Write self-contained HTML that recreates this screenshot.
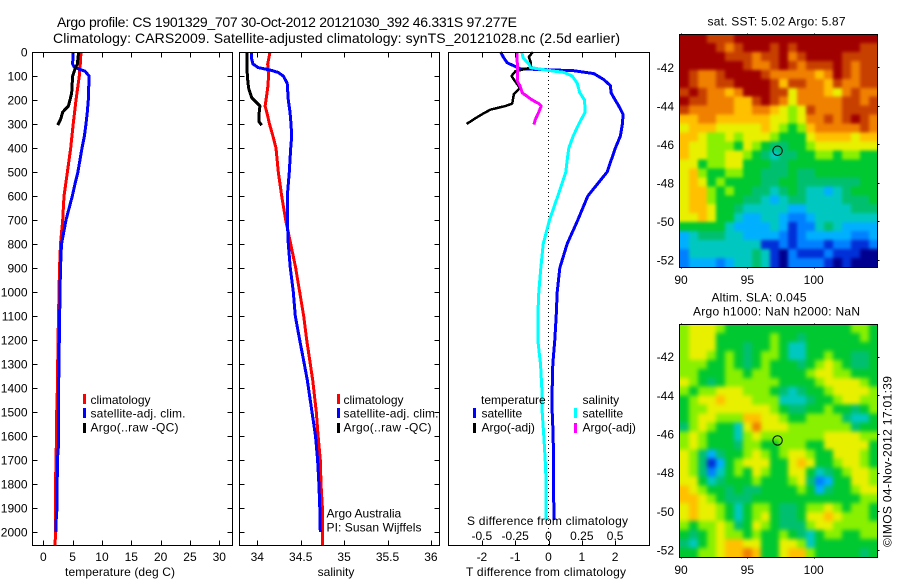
<!DOCTYPE html>
<html lang="en">
<head>
<meta charset="utf-8">
<title>Argo profile 1901329_707</title>
<style>
html,body{margin:0;padding:0;background:#fff;}
svg{display:block;font-family:"Liberation Sans",sans-serif;fill:#000;}
text{font-size:12px;}
.title{font-size:14px;}
.box{fill:none;stroke:#000;stroke-width:1;shape-rendering:crispEdges;}
</style>
</head>
<body>
<svg id="chart" xmlns="http://www.w3.org/2000/svg" width="900" height="580" viewBox="0 0 900 580">
  <defs>
    <filter id="soften-sst" filterUnits="userSpaceOnUse" x="640" y="0" width="260" height="300" color-interpolation-filters="sRGB"><feGaussianBlur stdDeviation="1.5"/></filter>
    <filter id="soften-sla" filterUnits="userSpaceOnUse" x="640" y="290" width="260" height="290" color-interpolation-filters="sRGB"><feGaussianBlur stdDeviation="2.2"/></filter>
    <clipPath id="clip-sst"><rect x="680" y="34" width="197" height="233"/></clipPath>
    <clipPath id="clip-sla"><rect x="680" y="324" width="197" height="233"/></clipPath>
  </defs>
  <text class="title" x="57" y="27" textLength="460" lengthAdjust="spacing">Argo profile: CS 1901329_707 30-Oct-2012 20121030_392 46.331S 97.277E</text>
  <text class="title" x="53" y="43" textLength="567" lengthAdjust="spacing">Climatology: CARS2009. Satellite-adjusted climatology: synTS_20121028.nc (2.5d earlier)</text>

  <g id="layer-marks"></g>
  <g id="layer-axes"></g>

  <text x="120" y="576" text-anchor="middle" textLength="110" lengthAdjust="spacing">temperature (deg C)</text>
  <text x="336" y="576" text-anchor="middle">salinity</text>
  <text x="546" y="576" text-anchor="middle" textLength="160" lengthAdjust="spacing">T difference from climatology</text>
  <text x="547.5" y="525" text-anchor="middle" textLength="161" lengthAdjust="spacing">S difference from climatology</text>

  <g>
    <rect x="83" y="394" width="3" height="10" fill="#f00"/>
    <text x="90.5" y="404">climatology</text>
    <rect x="83" y="408" width="3" height="10" fill="#00f"/>
    <text x="90.5" y="417.5" textLength="95" lengthAdjust="spacing">satellite-adj. clim.</text>
    <rect x="83" y="423" width="3" height="10" fill="#000"/>
    <text x="90.5" y="431.5" textLength="88" lengthAdjust="spacing">Argo(..raw -QC)</text>
  </g>
  <g>
    <rect x="337" y="394" width="3" height="10" fill="#f00"/>
    <text x="343.5" y="404">climatology</text>
    <rect x="337" y="408" width="3" height="10" fill="#00f"/>
    <text x="343.5" y="417.5" textLength="95" lengthAdjust="spacing">satellite-adj. clim.</text>
    <rect x="337" y="423" width="3" height="10" fill="#000"/>
    <text x="343.5" y="431.5" textLength="88" lengthAdjust="spacing">Argo(..raw -QC)</text>
  </g>
  <text x="326.5" y="517.5">Argo Australia</text>
  <text x="326.5" y="531.5" textLength="95" lengthAdjust="spacing">PI: Susan Wijffels</text>

  <g>
    <text x="481" y="404">temperature</text>
    <rect x="473" y="408" width="3" height="10" fill="#00f"/>
    <text x="481.5" y="417.5">satellite</text>
    <rect x="473" y="423" width="3" height="10" fill="#000"/>
    <text x="481.5" y="431.5">Argo(-adj)</text>
    <text x="582.5" y="404">salinity</text>
    <rect x="574" y="408" width="3" height="10" fill="#0ff"/>
    <text x="582.5" y="417.5">satellite</text>
    <rect x="574" y="423" width="3" height="10" fill="#f0f"/>
    <text x="582.5" y="431.5">Argo(-adj)</text>
  </g>

  <text x="776.5" y="25.5" text-anchor="middle" textLength="138" lengthAdjust="spacing">sat. SST: 5.02  Argo: 5.87</text>
  <text x="759" y="301.5" text-anchor="middle" textLength="95" lengthAdjust="spacing">Altim. SLA: 0.045</text>
  <text x="776.5" y="315.5" text-anchor="middle" textLength="167" lengthAdjust="spacing">Argo h1000: NaN h2000: NaN</text>
  <text transform="translate(891.5,547) rotate(-90)" textLength="171" lengthAdjust="spacing">©IMOS 04-Nov-2012 17:01:39</text>
</svg>
<script>
// ---- profile panel values ----
const tempClimDepth = [0,50,100,200,300,400,500,600,700,800,900,1000,1200,1400,1500,1600,1700,1800,1900,2000,2054];
const tempClimValue = [6.43,6.3,6.14,5.57,5.1,4.67,4.1,3.53,3.3,2.93,2.76,2.68,2.5,2.4,2.28,2.25,2.16,2.08,2.05,2.1,2.0];
const tempSatDepth = [0,50,60,70,80,100,200,250,300,350,400,500,550,600,700,800,900,1000,1400,1500,1600,1650,1700,1900,1950,2000];
const tempSatValue = [5.1,5.0,5.2,5.97,7.1,7.8,7.67,7.5,7.28,7.0,6.6,5.9,5.4,4.95,3.87,3.1,2.93,2.85,2.6,2.56,2.55,2.55,2.4,2.34,2.2,2.16];
const tempArgoDepth = [0,50,70,100,170,200,225,250,280,305];
const tempArgoValue = [6.03,5.8,5.4,5.0,4.84,4.55,4.27,3.3,2.97,2.45];

const salClimDepth = [0,50,100,150,200,225,260,300,350,400,500,600,700,800,900,1000,1100,1200,1300,1367,1500,1600,1700,1800,1900,2000,2054];
const salClimValue = [34.146,34.12,34.13,34.12,34.10,34.09,34.115,34.14,34.18,34.215,34.242,34.281,34.327,34.385,34.442,34.488,34.535,34.569,34.611,34.638,34.68,34.70,34.726,34.734,34.75,34.753,34.753];
const salSatDepth = [0,30,50,65,75,85,100,130,200,250,300,350,400,500,600,700,800,900,1000,1100,1200,1300,1367,1500,1600,1700,1800,1900,2000];
const salSatValue = [33.93,33.935,33.95,34.01,34.146,34.24,34.3,34.345,34.357,34.377,34.388,34.396,34.385,34.369,34.346,34.346,34.357,34.38,34.415,34.438,34.488,34.541,34.576,34.63,34.67,34.695,34.71,34.72,34.726];
const salArgoDepth = [0,100,150,190,210,225,260,290,305];
const salArgoValue = [33.88,33.885,33.9,33.935,33.99,34.03,34.02,34.02,34.05];

const diffTSatDepth = [0,25,45,70,78,90,115,140,170,190,225,260,300,350,400,500,600,700,800,900,1000,1100,1200,1300,1400,1500,1600,1900,1950];
const diffTSatValue = [-1.44,-1.34,-1.24,-0.84,0.75,1.36,1.66,1.86,1.88,1.96,2.11,2.24,2.22,2.16,2.01,1.76,1.18,0.88,0.56,0.34,0.26,0.23,0.19,0.13,0.11,0.11,0.14,0.16,0.16];
const diffTArgoDepth = [0,20,40,65,80,100,115,130,150,175,215,225,240,255,280,300];
const diffTArgoValue = [-0.47,-0.59,-0.54,-0.52,-0.99,-1.11,-1.04,-0.96,-0.86,-1.04,-1.09,-1.29,-1.74,-1.94,-2.24,-2.46];
const diffSSatDepth = [0,25,50,65,78,85,100,130,170,200,250,300,350,400,450,500,600,700,800,900,1000,1100,1200,1300,1400,1500,1600,1700,1800,1950];
const diffSSatValue = [-0.2,-0.19,-0.147,-0.135,0.015,0.115,0.178,0.215,0.235,0.27,0.275,0.227,0.185,0.152,0.14,0.13,0.07,0.0075,-0.04,-0.058,-0.073,-0.08,-0.08,-0.06,-0.05,-0.047,-0.035,-0.025,-0.017,-0.02];
const diffSArgoDepth = [0,40,80,120,140,170,200,215,225,250,280,302];
const diffSArgoValue = [-0.235,-0.235,-0.23,-0.235,-0.215,-0.197,-0.122,-0.073,-0.055,-0.073,-0.0975,-0.11];

// ---- tick labels ----
const depthTicks = [0,100,200,300,400,500,600,700,800,900,1000,1100,1200,1300,1400,1500,1600,1700,1800,1900,2000];
const tempTicks = [0,5,10,15,20,25,30];
const salTicks = [34,34.5,35,35.5,36];
const diffTTicks = [-2,-1,0,1,2];
const diffSTicks = [-0.5,-0.25,0,0.25,0.5];
const lonTicks = [90,95,100];
const latTicks = [-42,-44,-46,-48,-50,-52];

// ---- map float position ----
const floatLon = [97.277];
const floatLat = [-46.331];

// ---- heatmap values (colour-scale level, 0 = navy ... 12 = dark red) ----
const sstLevels = [
[12,12,12,11,11,11,12,12,12,12,12,12,12,12,12,12,12,12,12,12,12,12],
[12,12,12,12,11,10,11,12,12,12,11,12,11,12,12,12,12,12,12,12,11,11],
[12,12,12,12,12,11,11,11,10,11,11,12,10,11,12,12,12,12,11,11,11,11],
[12,12,12,12,12,12,12,11,10,10,11,12,11,10,11,11,11,12,11,10,11,11],
[12,11,10,10,11,12,12,12,12,11,10,10,10,10,10,9,10,12,11,10,11,11],
[12,11,10,10,11,11,12,12,12,12,11,9,11,11,10,10,9,11,10,10,11,11],
[11,12,11,10,10,9,10,12,12,12,11,11,8,10,10,10,9,8,10,11,10,10],
[12,11,11,10,10,10,9,9,11,12,11,10,8,10,10,10,10,10,11,11,10,11],
[11,10,10,10,10,10,9,9,10,10,9,8,7,8,11,10,10,10,11,11,11,11],
[9,9,10,10,9,9,9,9,9,9,8,8,7,8,10,10,11,10,11,12,11,10],
[8,9,9,9,8,8,8,8,8,9,8,7,6,7,9,10,10,10,10,10,11,10],
[9,9,8,7,7,8,7,8,8,8,7,6,6,6,8,9,9,9,9,8,9,9],
[9,8,8,7,7,7,6,8,7,6,5,5,6,6,7,8,8,8,8,8,8,8],
[9,8,8,7,7,8,8,7,6,5,4,5,5,6,6,7,7,6,7,7,6,6],
[8,8,6,7,7,8,8,6,6,6,5,5,6,6,6,6,6,6,6,6,6,6],
[8,9,7,6,6,7,7,6,6,5,5,5,6,5,5,6,6,6,6,6,6,6],
[8,9,8,6,7,6,6,6,6,5,5,6,6,5,5,5,5,5,5,5,6,6],
[8,9,9,7,6,7,6,6,5,5,4,5,6,5,4,4,3,4,5,6,6,6],
[8,9,9,7,6,6,6,5,5,4,3,4,5,5,4,4,4,4,5,5,5,6],
[8,9,9,8,6,6,5,4,4,4,4,4,3,3,4,4,4,4,4,5,5,5],
[8,8,9,8,6,6,4,3,3,4,4,3,2,2,3,4,4,4,4,4,4,4],
[6,6,6,6,6,4,3,3,3,3,4,3,1,2,2,4,5,4,3,3,3,3],
[3,4,5,5,5,4,4,3,3,3,3,2,1,2,3,3,3,3,3,2,2,3],
[3,4,4,4,4,4,4,4,4,1,1,2,1,2,2,2,1,2,2,1,1,2],
[2,4,4,4,4,4,4,4,5,4,1,0,2,1,1,1,2,1,1,1,0,0],
[2,3,3,3,2,3,4,4,5,4,1,0,2,2,2,2,1,0,1,0,0,0]
];
const slaLevels = [
[7,8,8,8,7,6,6,6,6,6,6,6,6,6,6,6,6,6,6,7,7,6],
[7,8,8,8,6,6,6,6,6,6,7,6,6,5,6,6,6,6,6,6,7,6],
[7,8,8,8,6,6,6,5,6,6,7,6,4,4,6,6,6,6,6,6,6,6],
[7,8,8,7,6,7,6,5,6,7,7,6,4,4,6,6,7,6,6,5,5,6],
[7,7,7,6,6,7,6,5,6,7,6,6,6,5,6,7,8,7,6,5,5,6],
[7,7,6,6,6,7,7,6,7,7,6,6,6,6,7,8,8,7,7,6,6,6],
[8,7,6,5,6,7,7,7,7,7,7,6,6,6,6,7,8,8,8,8,7,6],
[7,6,7,7,8,8,8,7,7,7,6,5,4,5,6,6,7,8,8,8,8,7],
[6,7,8,8,9,8,8,8,7,7,7,4,4,4,5,6,6,7,8,8,7,7],
[6,7,7,8,8,8,8,8,8,8,7,6,5,5,6,6,7,6,6,5,6,7],
[6,7,8,8,7,7,7,9,9,8,8,7,6,6,7,7,7,7,5,4,4,6],
[5,7,8,7,6,6,4,8,10,8,8,8,7,7,7,7,7,7,7,5,6,6],
[7,8,7,6,6,6,4,7,8,7,7,7,7,7,7,7,8,8,8,8,7,7],
[7,8,7,6,6,6,5,7,7,6,6,7,7,7,6,6,8,8,8,8,8,6],
[8,7,5,3,5,6,6,7,8,7,6,7,8,8,7,6,6,8,8,8,7,6],
[8,7,5,1,3,6,7,8,8,8,6,6,8,9,8,6,6,7,8,8,7,6],
[8,7,5,2,4,6,7,6,8,7,6,6,8,8,6,4,5,6,7,8,8,7],
[8,8,6,4,5,6,6,6,7,6,6,6,7,8,5,2,3,6,6,8,8,7],
[9,8,7,6,6,5,6,5,5,6,6,6,6,7,6,3,5,6,6,7,8,8],
[9,9,8,7,6,5,5,5,6,6,6,6,6,6,6,6,6,6,6,6,7,7],
[8,9,8,8,7,6,4,6,7,7,6,5,5,6,7,7,8,7,6,7,7,6],
[8,9,8,8,7,6,4,6,7,8,6,5,5,6,8,8,9,8,7,7,7,6],
[7,6,7,7,8,7,5,6,8,7,6,5,5,5,7,8,8,7,7,7,7,7],
[6,5,6,7,8,7,7,6,7,6,6,7,6,5,4,6,7,7,6,6,7,7],
[5,4,6,7,8,9,9,8,8,6,6,8,8,7,4,6,6,6,6,6,6,6],
[6,6,7,7,8,9,9,10,9,6,6,8,9,9,7,6,6,6,6,6,5,6]
];
const levelColours = ['#00008f','#0030d8','#0080ff','#00b0ff','#00c8c0','#00c070','#00c830','#88f000','#e8f000','#ffc000','#f08000','#c84000','#a00000'];

const SVGNS = 'http://www.w3.org/2000/svg';
const marks = document.getElementById('layer-marks');
const axes = document.getElementById('layer-axes');

// axis functions
const depthY = d => 52 + 0.24 * d;
const tempX = v => 43.3 + 5.867 * v;
const salX = v => 257.3 + 86.8 * (v - 34);
const diffTX = v => 548.5 + 33.3 * v;
const diffSX = v => 548.5 + 133.3 * v;
const lonX = v => 681 + 13.27 * (v - 90);
const sstLatY = v => 67.3 + 19.27 * (-42 - v);
const slaLatY = v => 356.7 + 19.33 * (-42 - v);

function drawSeries(name, colour, width, depths, values, xFn) {
  const p = document.createElementNS(SVGNS, 'polyline');
  
  
  p.setAttribute('points', values.map((v, i) => xFn(v).toFixed(1) + ',' + depthY(depths[i]).toFixed(1)).join(' '));
  p.setAttribute('fill', 'none');
  p.setAttribute('stroke', colour);
  p.setAttribute('stroke-width', width);
  p.setAttribute('stroke-linejoin', 'round');
  p.setAttribute('shape-rendering', 'crispEdges');
  marks.appendChild(p);
}

function drawLine(parent, name, x1, y1, x2, y2) {
  const l = document.createElementNS(SVGNS, 'line');
  
  
  l.setAttribute('x1', Math.round(x1) + 0.5);
  l.setAttribute('y1', Math.round(y1) + 0.5);
  l.setAttribute('x2', Math.round(x2) + 0.5);
  l.setAttribute('y2', Math.round(y2) + 0.5);
  l.setAttribute('stroke', '#000');
  l.setAttribute('shape-rendering', 'crispEdges');
  parent.appendChild(l);
}

function drawLabel(name, str, x, y, anchor) {
  const t = document.createElementNS(SVGNS, 'text');
  
  
  t.setAttribute('x', x);
  t.setAttribute('y', y);
  t.setAttribute('text-anchor', anchor);
  t.textContent = str;
  axes.appendChild(t);
}

function drawBox(name, x, y, w, h) {
  const r = document.createElementNS(SVGNS, 'rect');
  
  
  r.setAttribute('class', 'box');
  r.setAttribute('x', x + 0.5);
  r.setAttribute('y', y + 0.5);
  r.setAttribute('width', w);
  r.setAttribute('height', h);
  axes.appendChild(r);
}

function drawHeatmap(name, grid, left, top, clipId, filterId) {
  const clip = document.createElementNS(SVGNS, 'g');
  
  
  clip.setAttribute('clip-path', 'url(#' + clipId + ')');
  const soft = document.createElementNS(SVGNS, 'g');
  
  
  soft.setAttribute('filter', 'url(#' + filterId + ')');
  const pad = 12;
  grid.forEach((row, r) => {
    row.forEach((level, c) => {
      const cell = document.createElementNS(SVGNS, 'rect');
      
      
      const x0 = c === 0 ? left - pad : left + c * 9;
      const x1 = c === row.length - 1 ? left + (c + 1) * 9 + pad : left + (c + 1) * 9;
      const y0 = r === 0 ? top - pad : top + r * 8.96;
      const y1 = r === grid.length - 1 ? top + (r + 1) * 8.96 + pad : top + (r + 1) * 8.96 + 0.5;
      cell.setAttribute('x', x0);
      cell.setAttribute('y', y0);
      cell.setAttribute('width', x1 - x0);
      cell.setAttribute('height', y1 - y0);
      cell.setAttribute('fill', levelColours[level]);
      cell.setAttribute('shape-rendering', 'crispEdges');
      soft.appendChild(cell);
    });
  });
  clip.appendChild(soft);
  marks.appendChild(clip);
}

function drawProfileFrame(name, left, right, ticksX, xFn, withDepthLabels) {
  const top = 52, bottom = 545;
  drawBox(name + '-frame', left, top, right - left, bottom - top);
  depthTicks.forEach(d => {
    drawLine(axes, name + '-depth-tick', left, depthY(d), left + 5, depthY(d));
    drawLine(axes, name + '-depth-tick', right - 5, depthY(d), right, depthY(d));
    if (withDepthLabels) drawLabel('depth-tick-label', String(d), 27.5, depthY(d) + 4.5, 'end');
  });
  ticksX.forEach(v => {
    drawLine(axes, name + '-x-tick', xFn(v), bottom - 5, xFn(v), bottom);
    drawLine(axes, name + '-x-tick', xFn(v), top, xFn(v), top + 5);
    drawLabel(name + '-x-tick-label', String(v), xFn(v), 561, 'middle');
  });
}

// temperature panel
drawSeries('temperature-climatology-line', '#f00', 3, tempClimDepth, tempClimValue, tempX);
drawSeries('temperature-satellite-line', '#00f', 3, tempSatDepth, tempSatValue, tempX);
drawSeries('temperature-argo-line', '#000', 3, tempArgoDepth, tempArgoValue, tempX);
drawProfileFrame('temperature-panel', 32, 232, tempTicks, tempX, true);

// salinity panel
drawSeries('salinity-climatology-line', '#f00', 3, salClimDepth, salClimValue, salX);
drawSeries('salinity-satellite-line', '#00f', 3, salSatDepth, salSatValue, salX);
drawSeries('salinity-argo-line', '#000', 3, salArgoDepth, salArgoValue, salX);
drawProfileFrame('salinity-panel', 239, 439, salTicks, salX, false);

// difference panel
const zeroLine = document.createElementNS(SVGNS, 'line');


zeroLine.setAttribute('x1', diffTX(0));
zeroLine.setAttribute('x2', diffTX(0));
zeroLine.setAttribute('y1', 52);
zeroLine.setAttribute('y2', 545);
zeroLine.setAttribute('stroke', '#000');
zeroLine.setAttribute('stroke-dasharray', '1 3');
zeroLine.setAttribute('shape-rendering', 'crispEdges');
marks.appendChild(zeroLine);
drawSeries('t-difference-satellite-line', '#00f', 3, diffTSatDepth, diffTSatValue, diffTX);
drawSeries('t-difference-argo-line', '#000', 2.5, diffTArgoDepth, diffTArgoValue, diffTX);
drawSeries('s-difference-satellite-line', '#0ff', 3, diffSSatDepth, diffSSatValue, diffSX);
drawSeries('s-difference-argo-line', '#f0f', 3, diffSArgoDepth, diffSArgoValue, diffSX);
drawBox('difference-panel-frame', 448, 52, 201, 493);
diffTTicks.forEach(v => {
  drawLine(axes, 'difference-x-tick', diffTX(v), 540, diffTX(v), 545);
  drawLine(axes, 'difference-x-tick', diffTX(v), 52, diffTX(v), 57);
  drawLabel('t-difference-tick-label', String(v), diffTX(v), 561, 'middle');
});
diffSTicks.forEach(v => {
  drawLabel('s-difference-tick-label', String(v), diffSX(v), 540, 'middle');
});

// maps
function drawMap(name, grid, top, bottom, latFn, tickLabelY, clipId, filterId) {
  drawHeatmap(name, grid, 680, top, clipId, filterId);
  drawBox(name + '-frame', 679, top, 198, bottom - top);
  lonTicks.forEach(v => {
    drawLine(axes, name + '-lon-tick', lonX(v), top - 1, lonX(v), top);
    drawLine(axes, name + '-lon-tick', lonX(v), bottom, lonX(v), bottom + 1);
    drawLabel(name + '-lon-tick-label', String(v), lonX(v), tickLabelY, 'middle');
  });
  latTicks.forEach(v => {
    drawLine(axes, name + '-lat-tick', 877, latFn(v), 879, latFn(v));
    drawLabel(name + '-lat-tick-label', String(v), 674, latFn(v) + 4.5, 'end');
  });
  const dot = document.createElementNS(SVGNS, 'circle');
  
  
  dot.setAttribute('cx', lonX(floatLon[0]));
  dot.setAttribute('cy', latFn(floatLat[0]));
  dot.setAttribute('r', 4.7);
  dot.setAttribute('fill', 'none');
  dot.setAttribute('stroke', '#000');
  axes.appendChild(dot);
}
drawMap('sst-map', sstLevels, 34, 267, sstLatY, 284, 'clip-sst', 'soften-sst');
drawMap('sla-map', slaLevels, 324, 557, slaLatY, 574, 'clip-sla', 'soften-sla');
</script>
</body>
</html>
